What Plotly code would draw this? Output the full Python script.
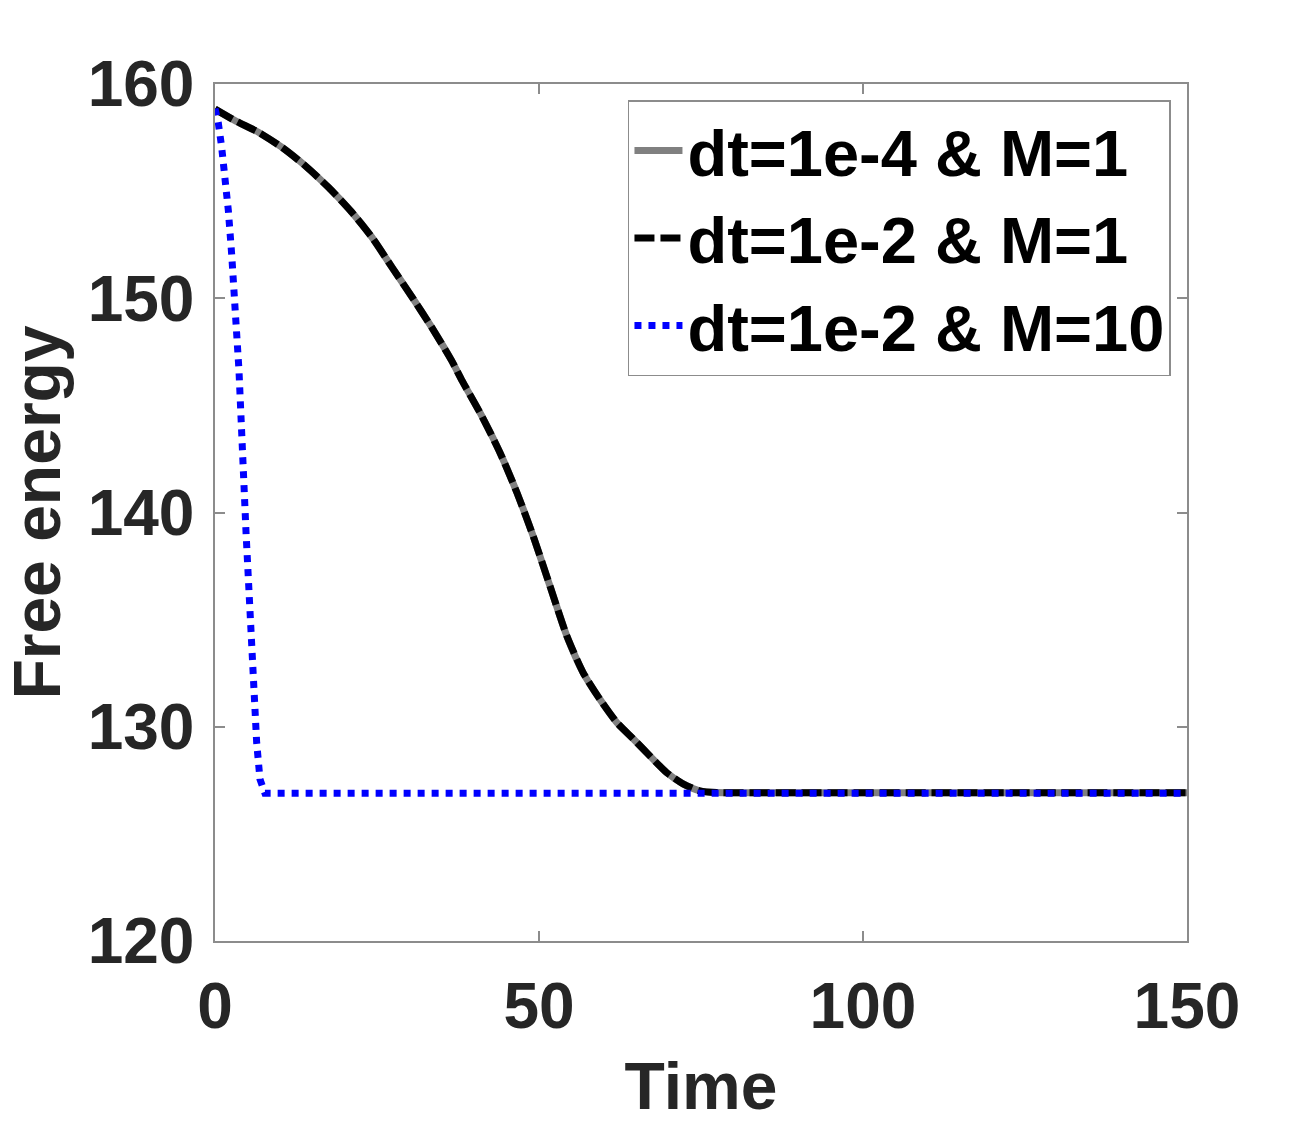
import plotly.graph_objects as go

# Black / gray curve (dt=1e-4 & M=1 and dt=1e-2 & M=1 coincide)
t_m1 = [0, 3.1, 6.7, 10.3, 13.9, 17.5, 21.1, 24.2, 27.3, 30.4, 33.4, 36.5, 38.1,
        41.0, 44.0, 46.6, 49.1, 51.7, 54.3, 56.8, 59.4, 62.0, 64.6, 67.1, 69.7,
        72.3, 74.8, 77.4, 90, 110, 130, 150]
f_m1 = [158.83, 158.29, 157.75, 157.05, 156.19, 155.18, 154.02, 152.85, 151.45,
        150.06, 148.66, 147.10, 146.17, 144.6, 142.78, 140.92, 138.90, 136.56,
        134.23, 132.53, 131.28, 130.20, 129.42, 128.64, 127.86, 127.32, 127.01,
        126.93, 126.92, 126.92, 126.92, 126.92]

# Blue curve (dt=1e-2 & M=10)
t_m10 = [0, 0.5, 1.03, 1.54, 2.06, 2.57, 2.98, 3.34, 3.7, 4.8, 5.91, 6.43, 6.94,
         7.7, 30, 60, 90, 120, 150]
f_m10 = [158.85, 158.21, 157.05, 155.8, 154.09, 152.07, 150.21, 148.34, 146.63,
         139.0, 131.13, 129.26, 127.55, 126.9, 126.9, 126.9, 126.9, 126.9, 126.9]

names = ["dt=1e-4 & M=1", "dt=1e-2 & M=1", "dt=1e-2 & M=10"]

x_ticks = [0, 50, 100, 150]
y_ticks = [120, 130, 140, 150, 160]

FONT = "Liberation Sans, Arial, sans-serif"

fig = go.Figure()
fig.add_trace(go.Scatter(x=t_m1, y=f_m1, mode="lines", name=names[0],
                         line=dict(color="#808080", width=7, shape="spline",
                                   smoothing=0.6)))
fig.add_trace(go.Scatter(x=t_m1, y=f_m1, mode="lines", name=names[1],
                         line=dict(color="black", width=7, dash="20px,6px",
                                   shape="spline", smoothing=0.6)))
fig.add_trace(go.Scatter(x=t_m10, y=f_m10, mode="lines", name=names[2],
                         line=dict(color="#0000ff", width=7, dash="7px,7px")))

axis_common = dict(
    showgrid=False, zeroline=False, showline=True, linecolor="#8c8c8c",
    linewidth=1.5, mirror="ticks", ticks="inside", ticklen=10, tickwidth=1.5,
    tickcolor="#8c8c8c",
    tickfont=dict(family=FONT, size=64, color="#262626", weight="bold"),
)

fig.update_xaxes(range=[0, 150], tickvals=x_ticks, ticklabelstandoff=8,
                 title=dict(text="Time", standoff=22,
                            font=dict(family=FONT, size=66, color="#262626",
                                      weight="bold")),
                 **axis_common)
fig.update_yaxes(range=[120, 160], tickvals=y_ticks, ticklabelstandoff=6,
                 title=dict(text="Free energy", standoff=6,
                            font=dict(family=FONT, size=66, color="#262626",
                                      weight="bold")),
                 **axis_common)

fig.update_layout(
    width=1312, height=1125,
    margin=dict(l=215, r=125, t=84, b=184),
    paper_bgcolor="white", plot_bgcolor="white",
    showlegend=True,
    legend=dict(
        x=0.9835, y=0.981, xanchor="right", yanchor="top",
        bgcolor="white", bordercolor="#8c8c8c", borderwidth=1.5,
        itemwidth=48, tracegroupgap=0,
        font=dict(family=FONT, size=65, color="black", weight="bold"),
    ),
)

fig.write_html("out.html")
